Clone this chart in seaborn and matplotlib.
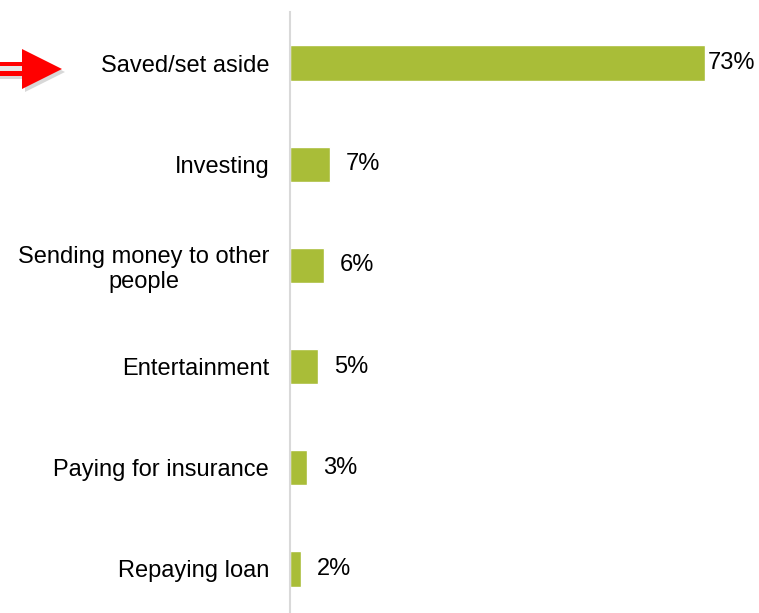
import matplotlib
matplotlib.use("Agg")
import matplotlib.pyplot as plt
import seaborn as sns
from matplotlib.patches import Polygon, Rectangle

sns.set_theme(style="white")
plt.rcParams['font.family'] = ['Liberation Sans', 'DejaVu Sans']

# data
categories = ["Saved/set aside", "Investing", "Sending money to other\npeople",
              "Entertainment", "Paying for insurance", "Repaying loan"]
values = [73, 7, 6, 5, 3, 2]
value_labels = ["73%", "7%", "6%", "5%", "3%", "2%"]

W, H = 759, 613
fig = plt.figure(figsize=(W / 100, H / 100), dpi=100)
ax = fig.add_axes([290 / W, 0, 455 / W, (H - 12) / H])

sns.barplot(x=values, y=categories, orient="h", color="#A9BD38",
            saturation=1, width=0.35, ax=ax)

ax.set_xlim(0, 80)
ax.set_ylim(5.436, -0.505)
ax.set_xticks([])
ax.set_xlabel("")
ax.set_ylabel("")
for s in ["top", "right", "bottom"]:
    ax.spines[s].set_visible(False)
ax.spines["left"].set_color("#D9D9D9")
ax.spines["left"].set_linewidth(1.5)
ax.tick_params(axis="y", length=0, pad=15, labelsize=17, labelcolor="black")
for lbl in ax.get_yticklabels():
    lbl.set_multialignment("center")

# value labels
for i, (v, t) in enumerate(zip(values, value_labels)):
    pad = 1.5 if v > 50 else 11.5
    ax.annotate(t, xy=(v, i), xytext=(pad, 0), textcoords="offset points",
                ha="left", va="center", fontsize=17, color="black")

# red arrow pointing at the first category (pixel coords, top-left origin)
def P(x, y):
    return (x / W, 1 - y / H)

def rect(x0, y0, x1, y1, color, alpha=1.0):
    fig.patches.append(Rectangle(P(x0, y1), (x1 - x0) / W, (y1 - y0) / H,
                                 transform=fig.transFigure, facecolor=color,
                                 edgecolor="none", alpha=alpha))

sh = 3
# shadow
fig.patches.append(Polygon([P(22 + sh, 49 + sh), P(22 + sh, 89 + sh), P(62 + sh, 69 + sh)],
                           closed=True, transform=fig.transFigure, facecolor="#C8C8C8",
                           edgecolor="none", alpha=0.7))
rect(0, 76, 24, 79, "#C8C8C8", 0.7)
# shaft: two red lines with light centre
rect(0, 62, 23, 66, "#FF0000")
rect(0, 66, 23, 71, "#E6E6E6")
rect(0, 71, 23, 76, "#FF0000")
# head
fig.patches.append(Polygon([P(22, 49), P(22, 89), P(62, 69)], closed=True,
                           transform=fig.transFigure, facecolor="#FF0000",
                           edgecolor="none"))

fig.savefig("out.png", dpi=100)
